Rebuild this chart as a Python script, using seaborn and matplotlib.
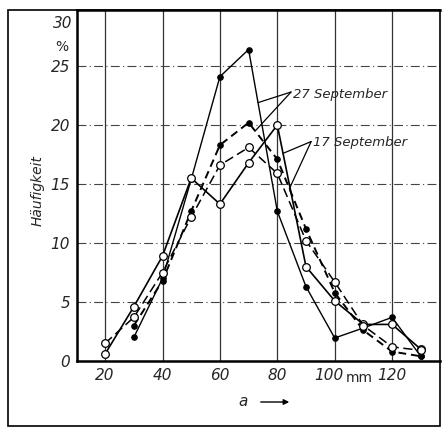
import matplotlib
matplotlib.use('Agg')
import matplotlib.pyplot as plt
import matplotlib.transforms as mtransforms
import seaborn as sns
from matplotlib.patches import Rectangle

# Data (a in mm, Haeufigkeit in %)
a_all = [20, 30, 40, 50, 60, 70, 80, 90, 100, 110, 120, 130]
a_from30 = a_all[1:]

sep27_solid  = [2.0, 7.0, 15.4, 24.1, 26.4, 12.7, 6.3, 1.95, 2.8, 3.7, 0.4]
sep27_dashed = [3.0, 6.8, 12.7, 18.3, 20.2, 17.1, 11.2, 5.8, 2.6, 0.8, 0.4]
sep17_solid  = [0.6, 4.6, 8.9, 15.5, 13.3, 16.8, 20.0, 8.0, 5.1, 3.1, 3.1, 1.0]
sep17_dashed = [1.5, 3.7, 7.5, 12.2, 16.6, 18.1, 15.9, 10.2, 6.7, 3.0, 1.2, 0.9]

xticks = [20, 40, 60, 80, 100, 120]
yticks = [0, 5, 10, 15, 20, 25]

sns.set_style('white')
plt.rcParams['font.family'] = ['DejaVu Sans']

fig = plt.figure(figsize=(4.42, 4.29), dpi=100)
ax = fig.add_axes([77/442, 68/429, 363/442, 351/429])

# grid
for xv in xticks:
    ax.axvline(xv, color='#333333', lw=0.9, zorder=1)
for yv in yticks[1:]:
    ax.axhline(yv, color='#444444', lw=0.8, ls=(0, (8, 3, 1, 3)), zorder=1)

# 27 September (filled dots)
sns.lineplot(x=a_from30, y=sep27_solid, ax=ax, color='black', lw=1.0,
             marker='o', markersize=4, markerfacecolor='black',
             markeredgecolor='black', sort=False, estimator=None, zorder=3)
sns.lineplot(x=a_from30, y=sep27_dashed, ax=ax, color='black', lw=1.4,
             linestyle=(0, (4, 2.5)), marker='o', markersize=4,
             markerfacecolor='black', markeredgecolor='black',
             sort=False, estimator=None, zorder=3)
# 17 September (open circles)
sns.lineplot(x=a_all, y=sep17_solid, ax=ax, color='black', lw=1.2,
             marker='o', markersize=5.5, markerfacecolor='white',
             markeredgecolor='black', markeredgewidth=0.9,
             sort=False, estimator=None, zorder=4)
sns.lineplot(x=a_all, y=sep17_dashed, ax=ax, color='black', lw=1.1,
             linestyle=(0, (6, 3)), marker='o', markersize=5.5,
             markerfacecolor='white', markeredgecolor='black',
             markeredgewidth=0.9, sort=False, estimator=None, zorder=4)

ax.set_xlim(10.2, 136.7)
ax.set_ylim(0, 29.75)
ax.set_xticks(xticks)
ax.set_xticklabels([str(v) for v in xticks], style='italic', fontsize=11)
ax.set_yticks(yticks)
ax.set_yticklabels([str(v) for v in yticks], style='italic', fontsize=11)
ax.tick_params(length=0, pad=5)
# "100" sits a little left to make room for the unit
lbl100 = ax.get_xticklabels()[4]
lbl100.set_transform(lbl100.get_transform() +
                     mtransforms.ScaledTranslation(-6/100, 0, fig.dpi_scale_trans))
for s in ['left', 'bottom', 'top']:
    ax.spines[s].set_linewidth(1.8)
    ax.spines[s].set_color('black')
ax.spines['right'].set_visible(False)

ax.text(-0.012, 28.6, '30', transform=ax.get_yaxis_transform(), ha='right',
        va='center', style='italic', fontsize=11)
ax.text(-0.025, 26.6, '%', transform=ax.get_yaxis_transform(), ha='right',
        va='center', fontsize=10)
ax.text(108.6, -1.45, 'mm', ha='center', va='center', fontsize=10,
        clip_on=False)

# annotations
ax.text(85.3, 22.6, '27 September', style='italic', fontsize=9.5, va='center')
ax.plot([84.8, 73.3], [22.8, 21.9], color='black', lw=0.9)
ax.plot([84.8, 72.3], [22.8, 19.5], color='black', lw=0.9)
ax.text(92.3, 18.5, '17 September', style='italic', fontsize=9.5, va='center')
ax.plot([91.8, 82.0], [18.6, 17.6], color='black', lw=0.9)
ax.plot([91.8, 84.2], [18.6, 14.6], color='black', lw=0.9)

fig.text(38/442, 1 - 190/429, 'Häufigkeit', rotation=90, style='italic',
         fontsize=10, ha='center', va='center')
fig.text(243/442, 1 - 402/429, 'a', style='italic', fontsize=11,
         ha='center', va='center')
fig.patches.append(matplotlib.patches.FancyArrowPatch(
    (258/442, 1 - 402/429), (292/442, 1 - 402/429),
    transform=fig.transFigure, arrowstyle='-|>', mutation_scale=8,
    color='black', lw=1.0))

# outer frame
fig.patches.append(Rectangle((8/442, 3/429), 432/442, 416/429,
                             transform=fig.transFigure, fill=False,
                             edgecolor='black', lw=1.2))

fig.savefig('out.png', dpi=100)
